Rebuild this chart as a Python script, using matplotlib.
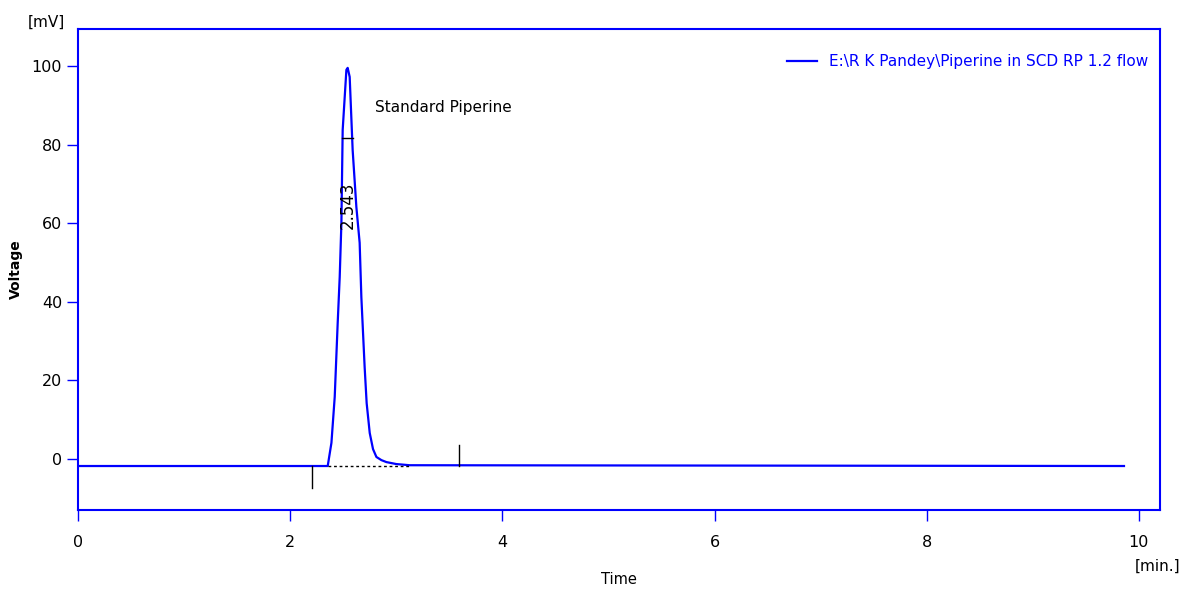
import matplotlib.pyplot as plt
import numpy as np

plt.rcParams['font.family'] = ['DejaVu Sans']

# chromatogram trace (time in min, signal in mV)
time = [0.0, 2.354, 2.389, 2.420, 2.448, 2.467, 2.483, 2.495, 2.530, 2.542,
        2.561, 2.589, 2.624, 2.655, 2.671, 2.702, 2.721, 2.750, 2.781, 2.813,
        2.860, 2.907, 3.000, 3.126, 9.86]
voltage = [-1.8, -1.8, 4.1, 15.8, 34.6, 46.3, 60.1, 83.7, 99.0, 99.5,
           97.2, 78.6, 64.1, 55.0, 41.2, 23.4, 14.2, 6.6, 2.5, 0.5,
           -0.3, -0.8, -1.3, -1.6, -1.8]

peak_rt = 2.543
peak_name = 'Standard Piperine'
peak_start, peak_end = 2.36, 3.13
marker_left = (2.21, -7.4)
marker_right = (3.59, 3.6)
baseline = -1.8
legend_label = 'E:\\R K Pandey\\Piperine in SCD RP 1.2 flow'

xticks = [0, 2, 4, 6, 8, 10]
yticks = [0, 20, 40, 60, 80, 100]

fig = plt.figure(figsize=(11.8, 5.91), dpi=100)
ax = fig.add_axes([0.0661, 0.137, 0.917, 0.814])

ax.plot(time, voltage, color='#0000ff', lw=1.6, label=legend_label)

# integration baseline and peak markers
ax.plot([peak_start, peak_end], [baseline, baseline], color='black', ls=(0, (2, 2)), lw=1)
ax.plot([marker_left[0]] * 2, [baseline, marker_left[1]], color='black', lw=1)
ax.plot([marker_right[0]] * 2, [baseline, marker_right[1]], color='black', lw=1)
ax.plot([2.49, 2.59], [81.7, 81.7], color='black', lw=1)
ax.text(peak_rt, 64.5, f'{peak_rt:.3f}', rotation=90, ha='center', va='center', fontsize=12)
ax.text(2.8, 89.5, peak_name, ha='left', va='center', fontsize=11)

ax.set_xlim(0, 10.2)
ax.set_ylim(-13, 109.4)
ax.set_xticks(xticks)
ax.set_yticks(yticks)
ax.tick_params(colors='#0000ff', labelcolor='black', labelsize=11.5, length=8, width=1)
ax.tick_params(axis='x', pad=10)
for sp in ax.spines.values():
    sp.set_color('#0000ff')
    sp.set_linewidth(1.5)

ax.set_xlabel('Time', fontsize=10.5, labelpad=16)
ax.set_ylabel('Voltage', fontsize=10, fontweight='bold', labelpad=6)
fig.text(0.0237, 0.962, '[mV]', fontsize=11, ha='left', va='center')
fig.text(0.962, 0.042, '[min.]', fontsize=11, ha='left', va='center')

leg = ax.legend(loc='upper right', bbox_to_anchor=(0.995, 0.96), frameon=False,
                fontsize=11, handlelength=2, borderaxespad=0)
for t in leg.get_texts():
    t.set_color('#0000ff')

fig.savefig('out.png', dpi=100)
